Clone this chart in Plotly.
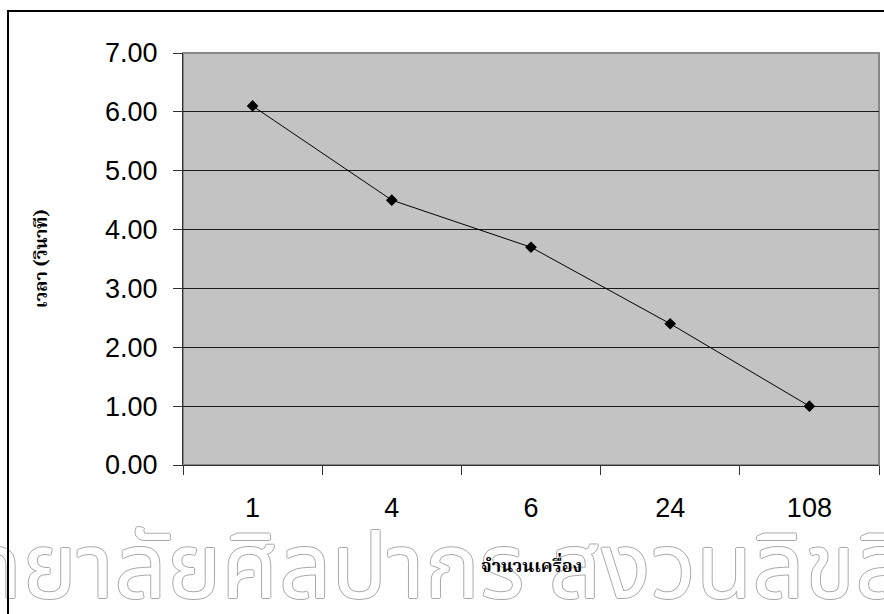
import plotly.graph_objects as go

# ---- data ----
categories = ["1", "4", "6", "24", "108"]
times = [6.10, 4.50, 3.70, 2.40, 1.00]
y_tick_vals = [0, 1, 2, 3, 4, 5, 6, 7]
y_tick_text = ["0.00", "1.00", "2.00", "3.00", "4.00", "5.00", "6.00", "7.00"]
x_title = "จำนวนเครื่อง"
y_title = "เวลา (วินาที)"
watermark = "มหาวิทยาลัยศิลปากร สงวนลิขสิทธิ์"

# ---- geometry (pixels) ----
W, H = 884, 614
L, T, R, B = 183, 53, 879, 465
PW, PH = R - L, B - T


def px(x):
    return (x - L) / PW


def py(y):
    return (B - y) / PH


num_font = dict(family="Liberation Sans, Arial, sans-serif", size=27, color="black")
thai_font = "Noto Serif Thai, Noto Sans Thai, Tahoma, serif"

fig = go.Figure(
    go.Scatter(
        x=categories,
        y=times,
        mode="lines+markers",
        line=dict(color="black", width=1),
        marker=dict(symbol="diamond", size=9, color="black"),
        showlegend=False,
        hoverinfo="skip",
    )
)

fig.update_layout(
    width=W,
    height=H,
    margin=dict(l=L, r=W - R, t=T, b=H - B, pad=0),
    paper_bgcolor="white",
    plot_bgcolor="#c3c3c3",
    showlegend=False,
    xaxis=dict(
        type="category",
        range=[-0.5, len(categories) - 0.5],
        tickson="boundaries",
        ticks="outside",
        ticklen=9,
        tickwidth=1,
        tickcolor="#333333",
        showline=True,
        linecolor="#333333",
        linewidth=1,
        showgrid=False,
        zeroline=False,
        tickfont=num_font,
        ticklabelstandoff=19,
    ),
    yaxis=dict(
        range=[0, 7],
        tickmode="array",
        tickvals=y_tick_vals,
        ticktext=y_tick_text,
        ticks="outside",
        ticklen=9,
        tickwidth=1,
        tickcolor="#333333",
        showline=True,
        linecolor="#333333",
        linewidth=1,
        showgrid=True,
        gridcolor="#1a1a1a",
        gridwidth=1,
        zeroline=False,
        tickfont=num_font,
        ticklabelstandoff=10,
    ),
    shapes=[
        # watermark (outlined text) behind everything
        dict(
            type="rect", xref="paper", yref="paper", layer="below",
            x0=px(-230), x1=px(900), y0=py(645), y1=py(505),
            line=dict(width=0), fillcolor="rgba(0,0,0,0)",
            label=dict(
                text=watermark,
                textposition="middle left",
                padding=0,
                font=dict(
                    family="Noto Sans Thai, Noto Sans Thai Looped, sans-serif",
                    size=92,
                    color="white",
                    shadow="1px 0 0 #a8a8a8, -1px 0 0 #a8a8a8, 0 1px 0 #a8a8a8, 0 -1px 0 #a8a8a8",
                ),
            ),
        ),
        # plot-area border
        dict(
            type="rect", xref="paper", yref="paper", layer="below",
            x0=0, x1=1, y0=0, y1=1,
            line=dict(color="#888888", width=2), fillcolor="rgba(0,0,0,0)",
        ),
        # chart-area border
        dict(
            type="rect", xref="paper", yref="paper", layer="above",
            x0=px(8), x1=px(892), y0=py(622), y1=py(11),
            line=dict(color="black", width=2), fillcolor="rgba(0,0,0,0)",
        ),
    ],
    annotations=[
        dict(
            text=f"<b>{y_title}</b>", xref="paper", yref="paper",
            x=px(42), y=py((T + B) / 2), textangle=-90, showarrow=False,
            xanchor="center", yanchor="middle",
            font=dict(family=thai_font, size=18, color="black"),
        ),
        dict(
            text=f"<b>{x_title}</b>", xref="paper", yref="paper",
            x=px((L + R) / 2), y=py(567), showarrow=False,
            xanchor="center", yanchor="middle",
            font=dict(family=thai_font, size=18, color="black"),
        ),
    ],
)

fig.write_html("out.html")
